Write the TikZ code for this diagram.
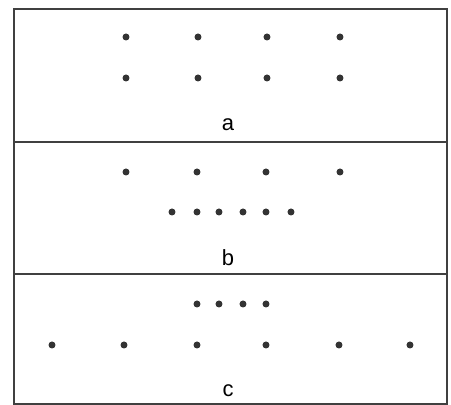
\documentclass[tikz,border=0pt]{standalone}
\usepackage{fontspec}
\setmainfont{Liberation Sans}
\begin{document}
\begin{tikzpicture}[x=0.02cm,y=-0.02cm,
  dot/.style={circle,fill=black!80,inner sep=0pt,minimum size=0.14cm},
  lbl/.style={font=\fontsize{12.5}{14}\selectfont,inner sep=0pt},
  frame/.style={draw=black!75,line width=0.9pt}]
\useasboundingbox (0,0) rectangle (451,405);
\draw[frame] (14,9) rectangle (447,404);
\draw[frame] (14,142) -- (447,142);
\draw[frame] (14,274) -- (447,274);
% panel a
\foreach \x [count=\i] in {126,198,267,340}{
  \node[dot] (a1\i) at (\x,37) {};
  \node[dot] (a2\i) at (\x,78) {};
}
\node[lbl] (la) at (228,125) {a};
% panel b
\foreach \x [count=\i] in {126,197,266,340}{
  \node[dot] (b1\i) at (\x,172) {};
}
\foreach \x [count=\i] in {172,197,219,243,266,291}{
  \node[dot] (b2\i) at (\x,212) {};
}
\node[lbl] (lb) at (228,258) {b};
% panel c
\foreach \x [count=\i] in {197,219,243,266}{
  \node[dot] (c1\i) at (\x,304) {};
}
\foreach \x [count=\i] in {52,124,197,266,339,410}{
  \node[dot] (c2\i) at (\x,345) {};
}
\node[lbl] (lc) at (228,391) {c};
\end{tikzpicture}
\end{document}
